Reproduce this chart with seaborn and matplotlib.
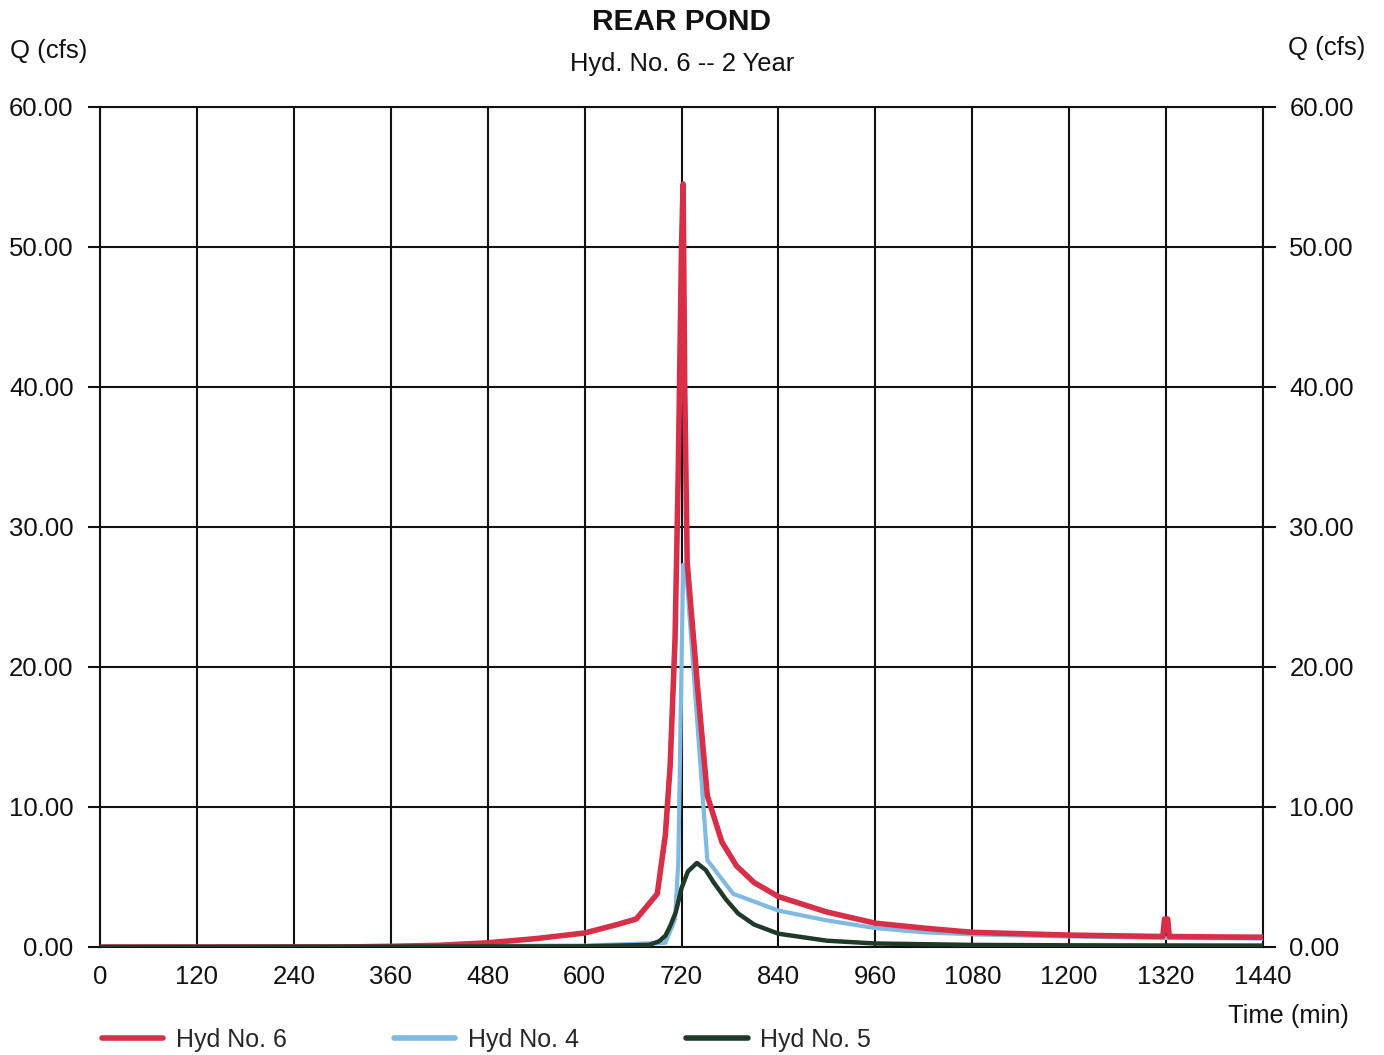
import numpy as np
import pandas as pd
import matplotlib
matplotlib.use("Agg")
import matplotlib.pyplot as plt
import seaborn as sns
from matplotlib.ticker import FormatStrFormatter
from matplotlib.lines import Line2D

# ---- data ----
hyd6_t = [0, 300, 360, 420, 480, 540, 600, 640, 664, 690, 700, 706, 712, 716, 720, 722, 724, 727,
          740, 752, 770, 788, 810, 840, 900, 960, 1020, 1080, 1140, 1200, 1260, 1316, 1318, 1322,
          1324, 1380, 1440]
hyd6_q = [0.0, 0.0, 0.05, 0.12, 0.3, 0.6, 1.0, 1.6, 2.0, 3.8, 8.0, 13.0, 22.0, 34.0, 50.0, 54.5,
          40.0, 27.5, 18.5, 10.8, 7.5, 5.8, 4.6, 3.6, 2.5, 1.7, 1.35, 1.05, 0.95, 0.85, 0.8, 0.75,
          2.0, 2.0, 0.75, 0.72, 0.7]

hyd4_t = [0, 600, 700, 712, 716, 720, 722, 727, 752, 784, 840, 900, 960, 1020, 1080, 1200, 1320, 1440]
hyd4_q = [0.0, 0.1, 0.3, 2.0, 6.0, 20.0, 27.3, 26.0, 6.2, 3.8, 2.6, 1.9, 1.35, 1.05, 0.9, 0.75, 0.65, 0.6]

hyd5_t = [0, 600, 680, 692, 700, 706, 713, 720, 728, 739, 750, 760, 775, 790, 810, 840, 900, 960,
          1080, 1200, 1440]
hyd5_q = [0.0, 0.05, 0.15, 0.4, 0.8, 1.5, 2.5, 4.2, 5.4, 6.0, 5.5, 4.6, 3.4, 2.4, 1.6, 0.95, 0.45,
          0.25, 0.15, 0.12, 0.1]

series_names = ["Hyd No. 6", "Hyd No. 4", "Hyd No. 5"]
series_colors = ["#d62f47", "#80b9e2", "#1f3a28"]
x_ticks = list(range(0, 1441, 120))
y_ticks = [0, 10, 20, 30, 40, 50, 60]

title = "REAR POND"
subtitle = "Hyd. No. 6 -- 2 Year"

# ---- build tidy frame ----
df = pd.concat([
    pd.DataFrame({"t": hyd6_t, "q": hyd6_q, "hyd": series_names[0]}),
    pd.DataFrame({"t": hyd4_t, "q": hyd4_q, "hyd": series_names[1]}),
    pd.DataFrame({"t": hyd5_t, "q": hyd5_q, "hyd": series_names[2]}),
], ignore_index=True)

sns.set_style("white")
plt.rcParams["font.family"] = ["Liberation Sans", "DejaVu Sans"]

W, H = 1384, 1055
fig = plt.figure(figsize=(W / 100, H / 100), dpi=100)
ax = fig.add_axes([100 / W, 1 - 947 / H, (1263 - 100) / W, (947 - 107) / H])

palette = dict(zip(series_names, series_colors))
widths = {series_names[0]: 4.0, series_names[1]: 3.0, series_names[2]: 3.2}
for name in [series_names[1], series_names[0], series_names[2]]:
    sub = df[df["hyd"] == name]
    sns.lineplot(data=sub, x="t", y="q", ax=ax, color=palette[name], lw=widths[name],
                 estimator=None, sort=False, legend=False, zorder=3)

TXT = "#111111"
ax.set_xlim(0, 1440)
ax.set_ylim(0, 60)
ax.set_xticks(x_ticks)
ax.set_yticks(y_ticks)
ax.yaxis.set_major_formatter(FormatStrFormatter("%.2f"))
ax.grid(True, color=TXT, lw=1.5, zorder=1)
ax.set_axisbelow(True)
for s in ax.spines.values():
    s.set_color(TXT)
    s.set_linewidth(1.5)
ax.set_xlabel("")
ax.set_ylabel("")
ax.tick_params(axis="x", length=0, pad=13, labelsize=18.5, colors=TXT)
ax.tick_params(axis="y", length=9, width=1.5, pad=10, labelsize=18.5, colors=TXT, direction="out")

ax2 = ax.twinx()
ax2.set_ylim(0, 60)
ax2.set_yticks(y_ticks)
ax2.yaxis.set_major_formatter(FormatStrFormatter("%.2f"))
ax2.tick_params(axis="y", length=9, width=1.5, pad=10, labelsize=18.5, colors=TXT, direction="out")
for s in ax2.spines.values():
    s.set_visible(False)
ax2.set_ylabel("")

fig.text(682 / W, 1 - 22 / H, title, ha="center", va="center", fontsize=21.5, fontweight="bold", color=TXT)
fig.text(682 / W, 1 - 64 / H, subtitle, ha="center", va="center", fontsize=18.4, color=TXT)
fig.text(49 / W, 1 - 51 / H, "Q (cfs)", ha="center", va="center", fontsize=18.5, color=TXT)
fig.text(1327 / W, 1 - 48 / H, "Q (cfs)", ha="center", va="center", fontsize=18.5, color=TXT)
fig.text(1288 / W, 1 - 1016 / H, "Time (min)", ha="center", va="center", fontsize=18.4, color=TXT)

handles = [Line2D([], [], color=c, lw=4) for c in series_colors]
fig.legend(handles, series_names, loc="center left", bbox_to_anchor=(102 / W, 1 - 1040 / H),
           ncol=3, frameon=False, fontsize=18, handlelength=2.45, handletextpad=0.5,
           columnspacing=4.3, borderpad=0, borderaxespad=0)

fig.savefig("out.png", dpi=100, facecolor="white")
